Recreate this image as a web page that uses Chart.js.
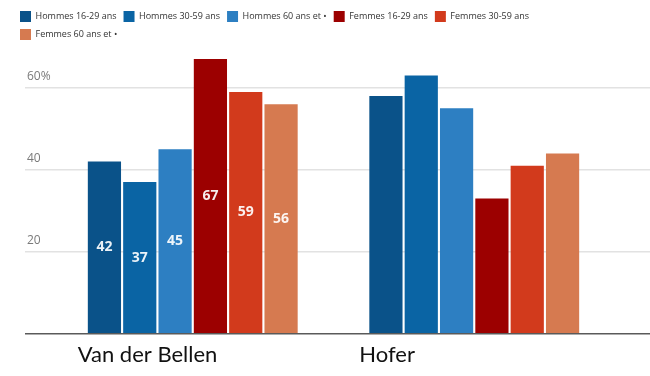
<!DOCTYPE html>
<html>
<head>
<meta charset="utf-8">
<script src="https://cdn.jsdelivr.net/npm/chart.js@4/dist/chart.umd.min.js"></script>
<style>
  body { margin: 0; background: #fff; }
  #wrap { width: 650px; height: 376px; }
</style>
</head>
<body>
<div id="wrap"><canvas id="chart"></canvas></div>
<script>
const categories = ["Van der Bellen", "Hofer"];
const seriesNames = [
  "Hommes 16-29 ans",
  "Hommes 30-59 ans",
  "Hommes 60 ans et •",
  "Femmes 16-29 ans",
  "Femmes 30-59 ans",
  "Femmes 60 ans et •",
];
const hommes1629 = [42, 58];
const hommes3059 = [37, 63];
const hommes60 = [45, 55];
const femmes1629 = [67, 33];
const femmes3059 = [59, 41];
const femmes60 = [56, 44];
const yTicks = [0, 20, 40, 60];
// only the first group carries value labels in the original
const labelledCategories = ["Van der Bellen"];

const colors = ["#0a5289", "#0a64a4", "#2d7fc2", "#9c0000", "#d23a1c", "#d67a50"];
const seriesValues = [hommes1629, hommes3059, hommes60, femmes1629, femmes3059, femmes60];

const LEGEND_WIDTH = 540;

const gridColor = (ctx) => (ctx.tick && ctx.tick.value === 0 ? "#5a5a5a" : "#e2e2e2");
const keepTicks = (scale) => {
  scale.ticks = scale.ticks.filter((t) => yTicks.includes(t.value));
};

const barValueLabels = {
  id: "barValueLabels",
  afterDatasetsDraw(chart) {
    const ctx = chart.ctx;
    ctx.save();
    ctx.font = "bold 14px 'Open Sans', sans-serif";
    ctx.fillStyle = "rgba(255,255,255,0.92)";
    ctx.textAlign = "center";
    ctx.textBaseline = "middle";
    chart.data.datasets.forEach((ds, i) => {
      const meta = chart.getDatasetMeta(i);
      meta.data.forEach((bar, j) => {
        if (!labelledCategories.includes(chart.data.labels[j])) return;
        const p = bar.getProps(["x", "y", "base"], true);
        ctx.fillText(String(ds.data[j]), p.x, (p.y + p.base) / 2);
      });
    });
    ctx.restore();
  },
};

// legend wraps after five items, and keeps some room above the plot
const legendMargin = {
  id: "legendMargin",
  beforeInit(chart) {
    const fitValue = chart.legend.fit;
    chart.legend.fit = function fit() {
      this.maxWidth = Math.min(this.maxWidth, LEGEND_WIDTH);
      fitValue.bind(chart.legend)();
      return (this.height += 5);
    };
  },
  afterLayout(chart) {
    const legend = chart.legend;
    legend.width = LEGEND_WIDTH;
    legend.right = legend.left + LEGEND_WIDTH;
  },
};

new Chart(document.getElementById("chart"), {
  type: "bar",
  data: {
    labels: categories,
    datasets: seriesNames.map((name, i) => ({
      label: name,
      data: seriesValues[i],
      backgroundColor: colors[i],
      borderWidth: 0,
      categoryPercentage: 0.753,
      barPercentage: 0.94,
    })),
  },
  options: {
    responsive: true,
    maintainAspectRatio: false,
    animation: false,
    layout: { padding: { left: 13, right: 0, top: 4, bottom: 0 } },
    plugins: {
      tooltip: { enabled: false },
      legend: {
        position: "top",
        align: "start",
        labels: {
          boxWidth: 11,
          boxHeight: 11,
          padding: 7,
          color: "#333",
          font: { family: "'Open Sans', sans-serif", size: 9 },
        },
      },
    },
    scales: {
      x: {
        grid: { display: false, drawTicks: false },
        border: { display: false },
        ticks: {
          align: "start",
          labelOffset: -115,
          padding: 9,
          color: "#111",
          font: { family: "Lato, sans-serif", size: 22, lineHeight: 1.1 },
        },
      },
      y: {
        position: "left",
        min: 0,
        max: 68,
        afterBuildTicks: keepTicks,
        afterFit: (s) => { s.width = 39; },
        border: { display: false },
        grid: { color: gridColor, lineWidth: 1.5, tickLength: 27 },
        ticks: {
          stepSize: 20,
          mirror: true,
          padding: -25,
          labelOffset: -11,
          color: "#7a7a7a",
          font: { family: "'Open Sans', sans-serif", size: 12 },
          callback: (v) => (v === 0 ? "" : v === 60 ? v + "%" : String(v)),
        },
      },
      y2: {
        position: "right",
        min: 0,
        max: 68,
        afterBuildTicks: keepTicks,
        afterFit: (s) => { s.width = 35; },
        border: { display: false },
        grid: { color: gridColor, lineWidth: 1.5, tickLength: 35, drawOnChartArea: false },
        ticks: { stepSize: 20, display: false },
      },
    },
  },
  plugins: [barValueLabels, legendMargin],
});
</script>
</body>
</html>
